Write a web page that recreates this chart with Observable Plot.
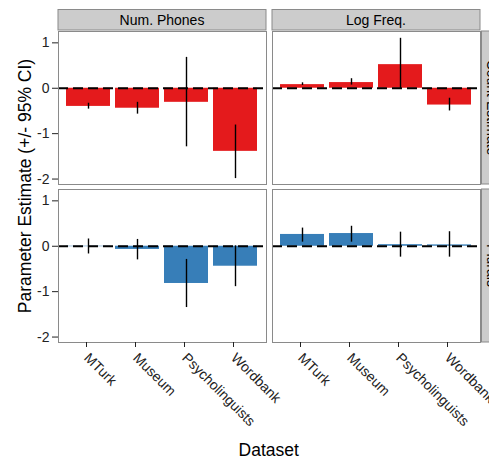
<!DOCTYPE html>
<html>
<head>
<meta charset="utf-8">
<script src="https://cdn.jsdelivr.net/npm/d3@7"></script>
<script src="https://cdn.jsdelivr.net/npm/@observablehq/plot@0.6"></script>
<style>
  html, body { margin: 0; padding: 0; background: white; overflow: hidden; }
  #chart { width: 489px; height: 460px; overflow: hidden; }
</style>
</head>
<body>
<div id="chart"></div>
<script>
// ---- data ----
const datasets = ["MTurk", "Museum", "Psycholinguists", "Wordbank"];
const predictors = ["Num. Phones", "Log Freq."];
const outcomes = ["Count Estimate", "Plurals"];
const outcomeColors = ["#E41A1C", "#377EB8"];
const yTicks = [-2, -1, 0, 1];

// Count Estimate ~ Num. Phones
const countPhonesEst = [-0.40, -0.44, -0.31, -1.39];
const countPhonesLo  = [-0.46, -0.57, -1.29, -1.99];
const countPhonesHi  = [-0.33, -0.31,  0.68, -0.81];
// Count Estimate ~ Log Freq.
const countFreqEst = [0.08, 0.125, 0.52, -0.37];
const countFreqLo  = [0.06, 0.07, -0.02, -0.50];
const countFreqHi  = [0.12, 0.21,  1.10, -0.22];
// Plurals ~ Num. Phones
const pluralPhonesEst = [-0.01, -0.07, -0.82, -0.44];
const pluralPhonesLo  = [-0.17, -0.30, -1.35, -0.89];
const pluralPhonesHi  = [ 0.16,  0.15, -0.29,  0.01];
// Plurals ~ Log Freq.
const pluralFreqEst = [0.26, 0.28, 0.035, 0.03];
const pluralFreqLo  = [0.09, 0.09, -0.24, -0.24];
const pluralFreqHi  = [0.40, 0.44,  0.31,  0.32];

const panels = [
  ["Count Estimate", "Num. Phones", countPhonesEst, countPhonesLo, countPhonesHi],
  ["Count Estimate", "Log Freq.", countFreqEst, countFreqLo, countFreqHi],
  ["Plurals", "Num. Phones", pluralPhonesEst, pluralPhonesLo, pluralPhonesHi],
  ["Plurals", "Log Freq.", pluralFreqEst, pluralFreqLo, pluralFreqHi]
];
const rows = panels.flatMap(([outcome, predictor, est, lo, hi]) =>
  datasets.map((dataset, i) => ({outcome, predictor, dataset, est: est[i], lo: lo[i], hi: hi[i]})));

const W = 489, H = 460;
const mL = 57, mR = 8.5, mT = 30, mB = 118;
const font = "'Liberation Sans', Arial, Helvetica, sans-serif";

const plot = Plot.plot({
  width: W, height: H,
  marginLeft: mL, marginRight: mR, marginTop: mT, marginBottom: mB,
  style: {fontFamily: font, fontSize: "14px", color: "#222", background: "white", overflow: "hidden"},
  fx: {domain: predictors, paddingInner: 0.026, paddingOuter: 0, axis: null},
  fy: {domain: outcomes, paddingInner: 0.032, paddingOuter: 0, axis: null},
  x: {domain: datasets, paddingInner: 0.1, paddingOuter: 0.15},
  y: {domain: [-2.12, 1.25], ticks: yTicks, tickFormat: d => String(d), tickSize: 6, tickPadding: 3, label: null},
  color: {domain: outcomes, range: outcomeColors},
  marks: [
    Plot.barY(rows, {fx: "predictor", fy: "outcome", x: "dataset", y: "est", fill: "outcome"}),
    Plot.ruleY([0], {stroke: "black", strokeWidth: 1.8, strokeDasharray: "10,5"}),
    Plot.ruleX(rows, {fx: "predictor", fy: "outcome", x: "dataset", y1: "lo", y2: "hi", stroke: "black", strokeWidth: 1.4}),
    Plot.frame({stroke: "#8a8a8a"}),
    Plot.axisX({tickRotate: 45, textAnchor: "start", lineAnchor: "middle", tickSize: 5, tickPadding: 8, dx: -2, fontSize: 14, label: null})
  ]
});
document.getElementById("chart").appendChild(plot);

// ---- facet strips (positions from the plot's fx / fy scales) ----
function bandOf(name, fallbackRange, pi) {
  let s = null;
  try { s = plot.scale(name); } catch (e) { s = null; }
  if (s && s.apply && s.bandwidth != null) return {at: d => s.apply(d), bw: s.bandwidth};
  const b = d3.scaleBand(name === "fx" ? predictors : outcomes, fallbackRange).paddingInner(pi).paddingOuter(0);
  return {at: d => b(d), bw: b.bandwidth()};
}
const FX = bandOf("fx", [mL, W - mR], 0.026);
const FY = bandOf("fy", [mT, H - mB], 0.032);
const svg = d3.select(plot);
const stripH = 20.5;
const strips = svg.append("g").attr("font-family", font).attr("font-size", 14).attr("fill", "black");
predictors.forEach(p => {
  strips.append("rect").attr("x", FX.at(p)).attr("y", mT - stripH).attr("width", FX.bw).attr("height", stripH)
    .attr("fill", "#cccccc").attr("stroke", "#8a8a8a").attr("stroke-width", 1);
  strips.append("text").attr("x", FX.at(p) + FX.bw / 2).attr("y", mT - stripH / 2)
    .attr("text-anchor", "middle").attr("dy", "0.35em").text(p);
});
outcomes.forEach(o => {
  const x0 = W - mR + 1;
  strips.append("rect").attr("x", x0).attr("y", FY.at(o)).attr("width", stripH).attr("height", FY.bw)
    .attr("fill", "#cccccc").attr("stroke", "#8a8a8a").attr("stroke-width", 1);
  const cx = x0 + stripH / 2, cy = FY.at(o) + FY.bw / 2;
  strips.append("text").attr("transform", `translate(${cx},${cy}) rotate(90)`)
    .attr("text-anchor", "middle").attr("dy", "0.35em").text(o);
});

// ---- axis titles ----
const titles = svg.append("g").attr("font-family", font).attr("font-size", 17.5).attr("fill", "black");
titles.append("text").attr("transform", `translate(25,${(mT + H - mB) / 2}) rotate(-90)`)
  .attr("text-anchor", "middle").attr("dy", "0.35em").text("Parameter Estimate (+/- 95% CI)");
titles.append("text").attr("x", (mL + W - mR) / 2).attr("y", 456)
  .attr("text-anchor", "middle").text("Dataset");
</script>
</body>
</html>
